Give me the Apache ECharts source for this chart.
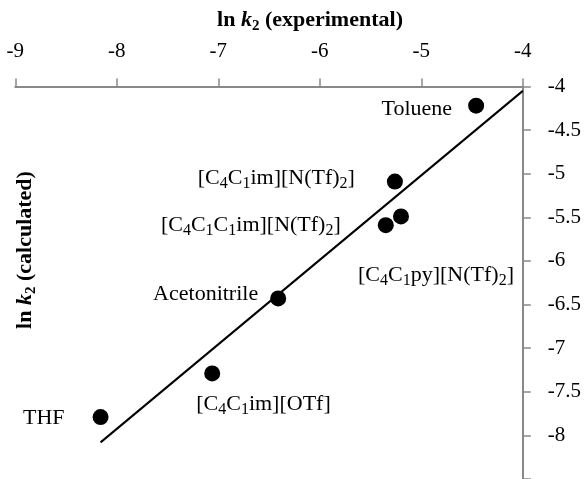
<!DOCTYPE html>
<html><head><meta charset="utf-8">
<script src="https://cdn.jsdelivr.net/npm/echarts@6/dist/echarts.min.js"></script>
<style>html,body{margin:0;padding:0;background:#fff}#c{width:586px;height:479px}</style>
</head><body><div id="c"></div>
<script>
// ---- data ----
const names = ['Toluene','[C4C1im][N(Tf)2]','[C4C1py][N(Tf)2]','[C4C1C1im][N(Tf)2]','Acetonitrile','[C4C1im][OTf]','THF'];
const lnK2Experimental = [-4.46,-5.26,-5.20,-5.35,-6.41,-7.06,-8.16];
const lnK2Calculated   = [-4.22,-5.09,-5.49,-5.59,-6.43,-7.29,-7.79];
const fitLineX = [-8.16,-4.0];
const fitLineY = [-8.08,-4.05];
const xAxisRange = {min:-9, max:-4, interval:1};
const yAxisRange = {min:-8.5, max:-4, interval:0.5};
const xAxisTitle = ['ln ','k','2',' (experimental)'];
const yAxisTitle = ['ln ','k','2',' (calculated)'];

// ---- label layout (text anchor relative to the point, px) ----
const labelLayout = [
  {align:'right', dx:-24, dy:4},
  {align:'right', dx:-40, dy:-3},
  {align:'left',  dx:-43, dy:59},
  {align:'right', dx:-45, dy:0},
  {align:'right', dx:-20, dy:-4},
  {align:'left',  dx:-16, dy:31},
  {align:'right', dx:-36, dy:1}
];

const FONT = "'Liberation Serif','Times New Roman',serif";
function toRich(s){
  return '{n|' + s.replace(/(C|\))(\d)/g, '$1}{s|$2}{n|') + '}';
}
const labelRich = {
  n:{fontFamily:FONT, fontSize:22, color:'#000', lineHeight:27},
  s:{fontFamily:FONT, fontSize:16, color:'#000', lineHeight:15, verticalAlign:'bottom'}
};

const scatterData = names.map((nm,i)=>({
  name:nm,
  value:[lnK2Experimental[i], lnK2Calculated[i]],
  label:{
    show:true, position:'inside', formatter:toRich(nm),
    align:labelLayout[i].align, verticalAlign:'middle',
    offset:[labelLayout[i].dx, labelLayout[i].dy],
    color:'#000', opacity:1, textBorderWidth:0, rich:labelRich
  }
}));

const titleRich = {
  b:{fontFamily:FONT, fontSize:22, fontWeight:'bold', fill:'#000', color:'#000', lineHeight:27},
  bi:{fontFamily:FONT, fontSize:22, fontWeight:'bold', fontStyle:'italic', fill:'#000', color:'#000', lineHeight:27},
  bs:{fontFamily:FONT, fontSize:15, fontWeight:'bold', fill:'#000', color:'#000', lineHeight:15, verticalAlign:'bottom'}
};
function titleText(t){ return '{b|'+t[0]+'}{bi|'+t[1]+'}{bs|'+t[2]+'}{b|'+t[3]+'}'; }

const axisGray = '#898989';
const chart = echarts.init(document.getElementById('c'), null, {renderer:'canvas'});
chart.setOption({
  backgroundColor:'#fff',
  animation:false,
  grid:{left:15.3, right:63.2, top:86.5, bottom:-9.1, containLabel:false},
  xAxis:{
    type:'value', position:'top', min:xAxisRange.min, max:xAxisRange.max, interval:xAxisRange.interval,
    axisLine:{show:true, onZero:false, lineStyle:{color:axisGray, width:2}},
    axisTick:{show:true, length:8, lineStyle:{color:axisGray, width:1.5}},
    axisLabel:{fontFamily:FONT, fontSize:21, color:'#000', margin:25},
    splitLine:{show:false}
  },
  yAxis:{
    type:'value', position:'right', min:yAxisRange.min, max:yAxisRange.max, interval:yAxisRange.interval,
    axisLine:{show:true, onZero:false, lineStyle:{color:axisGray, width:2}},
    axisTick:{show:true, length:8, lineStyle:{color:axisGray, width:1.5}},
    axisLabel:{fontFamily:FONT, fontSize:21, color:'#000', margin:25,
      formatter:v=> (Math.abs(v+8.5)<1e-9 ? '' : String(v))},
    splitLine:{show:false}
  },
  graphic:[
    {type:'text', x:310, y:20, style:{text:titleText(xAxisTitle), rich:titleRich, align:'center', verticalAlign:'middle', textAlign:'center', textVerticalAlign:'middle', fill:'#000'}},
    {type:'text', x:25, y:250, rotation:Math.PI/2, style:{text:titleText(yAxisTitle), rich:titleRich, align:'center', verticalAlign:'middle', textAlign:'center', textVerticalAlign:'middle', fill:'#000'}}
  ],
  series:[
    {type:'line', data:fitLineX.map((x,i)=>[x, fitLineY[i]]), symbol:'none', silent:true,
     lineStyle:{color:'#000', width:2}, z:2},
    {type:'scatter', data:scatterData, symbol:'circle', symbolSize:16,
     itemStyle:{color:'#000', opacity:1}, z:3}
  ]
});
</script></body></html>
